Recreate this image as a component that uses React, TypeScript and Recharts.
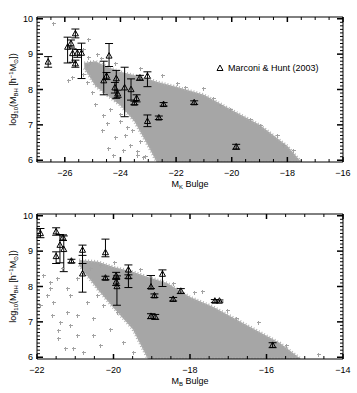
import React from 'react';
import { ComposedChart, XAxis, YAxis, Area, Scatter, ErrorBar, Legend, ReferenceArea } from 'recharts';

// ---------- data: top panel (M_K bulge) ----------
const kBandX = [-25.3, -24.9, -24.5, -24.0, -23.5, -23.0, -22.7, -22.0, -21.0, -20.0, -19.0, -18.0, -17.5];
const kBandLow = [8.6, 8.1, 7.85, 7.55, 7.1, 6.4, 5.95, 5.95, 5.95, 5.95, 5.95, 5.95, 5.95];
const kBandHigh = [8.75, 8.8, 8.65, 8.5, 8.4, 8.3, 8.22, 8.08, 7.85, 7.42, 7.0, 6.4, 5.95];

const kSparseX = [-26.41, -25.15, -25.33, -24.85, -25.87, -25.75, -25.21, -25.09, -25.33, -25.21, -25.03, -24.61, -24.13, -24.37, -24.01, -23.77, -23.83, -24.19, -24.26, -23.65, -23.41, -23.3, -24.67, -24.44, -25.15, -21.02, -20.66, -20.06, -20.42, -19.34, -18.98, -18.38, -18.14, -17.78, -21.97, -21.68, -22.5, -23.3, -24.2, -24.7, -24.9, -24.5, -23.9, -24.0, -23.6, -23.2, -23.41, -23.11];
const kSparseY = [9.88, 9.44, 9.15, 9.01, 8.26, 8.36, 8.68, 8.78, 8.45, 8.22, 7.94, 7.28, 7.7, 7.46, 7.32, 6.95, 6.71, 6.67, 6.15, 6.43, 6.25, 6.53, 6.85, 6.34, 8.92, 8.03, 7.75, 7.46, 7.56, 7.18, 6.99, 6.71, 6.43, 6.29, 8.17, 8.08, 8.4, 8.6, 8.75, 8.9, 7.6, 7.05, 6.3, 7.1, 6.85, 6.1, 6.15, 6.12];

const kMhX = [-26.6, -25.9, -25.78, -25.62, -25.72, -25.55, -25.62, -25.4, -24.41, -24.6, -24.5, -24.15, -24.2, -24.1, -23.85, -23.62, -23.42, -23.5, -23.3, -23.03, -22.45, -23.03, -22.62, -21.35, -19.84];
const kMhY = [8.78, 9.2, 9.3, 9.58, 9.02, 9.03, 8.73, 9.03, 8.95, 8.25, 8.38, 8.31, 8.05, 7.88, 8.05, 8.0, 7.75, 7.62, 8.33, 8.38, 7.58, 7.1, 7.2, 7.63, 6.38];
const kMhErrLo = [0.15, 0.45, 0.1, 0.12, 0.25, 0.12, 0.1, 0.72, 0.3, 0.4, 0.1, 0.56, 0.15, 0.1, 0.82, 0.3, 0.1, 0.05, 0.07, 0.3, 0.05, 0.15, 0.05, 0.05, 0.07];
const kMhErrHi = [0.15, 0.28, 0.1, 0.13, 0.13, 0.1, 0.1, 0.28, 0.35, 0.55, 0.1, 0.23, 0.15, 0.1, 0.58, 0.3, 0.1, 0.05, 0.07, 0.12, 0.05, 0.18, 0.05, 0.05, 0.07];

// ---------- data: bottom panel (M_B bulge) ----------
const bBandX = [-20.9, -20.4, -20.0, -19.5, -19.1, -18.6, -18.0, -17.4, -16.5, -15.65, -15.1];
const bBandLow = [8.6, 7.9, 7.4, 6.8, 5.95, 5.95, 5.95, 5.95, 5.95, 5.95, 5.95];
const bBandHigh = [8.75, 8.7, 8.55, 8.42, 8.27, 8.1, 7.7, 7.43, 6.9, 6.4, 5.95];

const bSparseX = [-21.84, -21.66, -21.92, -21.57, -21.22, -21.4, -21.44, -21.14, -20.96, -21.27, -20.79, -20.53, -20.35, -20.09, -20.7, -20.44, -20.96, -20.79, -20.61, -20.35, -21.49, -21.75, -19.74, -19.48, -19.92, -20.96, -20.53, -20.27, -21.22, -21.62, -21.44, -21.05, -21.66, -21.35, -21.14, -18.44, -17.69, -17.04, -16.21, -14.65, -15.5, -16.8, -17.9, -19.3, -20.0];
const bSparseY = [8.33, 7.95, 7.48, 7.57, 7.95, 7.0, 6.53, 6.91, 7.19, 6.25, 6.15, 6.62, 6.34, 6.81, 7.57, 7.76, 8.23, 8.42, 8.52, 8.61, 8.23, 7.76, 6.43, 6.15, 7.29, 6.62, 7.1, 7.48, 7.29, 7.19, 6.77, 6.25, 8.14, 8.52, 7.76, 8.09, 7.88, 7.33, 7.01, 6.08, 6.35, 7.1, 7.85, 8.5, 8.7];

const bMhX = [-21.91, -21.5, -21.5, -21.4, -21.32, -21.3, -21.1, -20.81, -20.81, -20.21, -20.21, -19.93, -19.93, -19.91, -19.61, -19.61, -19.02, -18.72, -18.93, -18.44, -18.24, -19.02, -18.91, -17.35, -17.23, -15.84];
const bMhY = [9.5, 9.55, 8.85, 9.17, 9.38, 9.05, 8.72, 9.03, 8.36, 8.96, 8.24, 8.3, 8.13, 8.0, 8.47, 8.28, 7.99, 8.35, 7.74, 7.64, 7.87, 7.16, 7.14, 7.59, 7.59, 6.34];
const bMhErrLo = [0.12, 0.1, 0.2, 0.5, 0.08, 0.63, 0.05, 0.38, 0.52, 0.12, 0.05, 0.1, 0.1, 0.53, 0.5, 0.05, 0.05, 0.35, 0.05, 0.05, 0.07, 0.07, 0.07, 0.04, 0.03, 0.07];
const bMhErrHi = [0.14, 0.11, 0.13, 0.3, 0.08, 0.38, 0.05, 0.14, 0.52, 0.38, 0.05, 0.1, 0.1, 0.3, 0.14, 0.05, 0.32, 0.12, 0.05, 0.05, 0.07, 0.07, 0.07, 0.04, 0.03, 0.07];

// ---------- axes ----------
const kXDomain = [-27, -16];
const kXMajor = [-26, -24, -22, -20, -18, -16];
const bXDomain = [-22, -14];
const bXMajor = [-22, -20, -18, -16, -14];
const xMinorStep = 0.5;
const yDomain = [5.95, 10.05];
const yMajor = [6, 7, 8, 9, 10];
const yMinorStep = 0.1;

const FONT = '"Liberation Sans", Arial, Helvetica, sans-serif';
const CLOUD = '#a6a6a6';
const CROSS = '#a2a2a2';
const TICK = '#000';
const W = 357;
const MARGIN_R = 14;
const Y_AXIS_W = 37;
const X_AXIS_H = 34;
const PLOT_W = W - MARGIN_R - Y_AXIS_W;
const PLOT_H = 145;

function buildTicks(lo: number, hi: number, step: number) {
  const out: number[] = [];
  const n = Math.round((hi - lo) / step);
  for (let i = 0; i <= n; i++) out.push(Math.round((lo + i * step) * 1000) / 1000);
  return out;
}

const isMajor = (v: number, majors: number[]) => majors.some((m) => Math.abs(m - v) < 1e-6);
const fmt = (v: number) => (v < 0 ? '\u2212' + Math.abs(v) : String(v));

const makeXTick = (majors: number[]) => (props: any) => {
  const { x, y, payload } = props;
  const v = payload.value;
  const major = isMajor(v, majors);
  const len = major ? 5 : 3;
  const sw = major ? 1.5 : 1;
  return (
    <g>
      <line x1={x} x2={x} y1={y} y2={y - len} stroke={TICK} strokeWidth={sw} />
      <line x1={x} x2={x} y1={y - PLOT_H} y2={y - PLOT_H + len} stroke={TICK} strokeWidth={sw} />
      {major && (
        <text x={x} y={y + 14} textAnchor="middle" fontSize={9} fontFamily={FONT} fill="#000">
          {fmt(v)}
        </text>
      )}
    </g>
  );
};

const YTick = (props: any) => {
  const { x, y, payload } = props;
  const v = payload.value;
  const major = isMajor(v, yMajor);
  const len = major ? 6 : 3;
  const sw = major ? 1.5 : 1;
  return (
    <g>
      <line x1={x} x2={x + len} y1={y} y2={y} stroke={TICK} strokeWidth={sw} />
      <line x1={x + PLOT_W} x2={x + PLOT_W - len} y1={y} y2={y} stroke={TICK} strokeWidth={sw} />
      {major && (
        <text x={x - 4} y={y + 3} textAnchor="end" fontSize={9} fontFamily={FONT} fill="#000">
          {v}
        </text>
      )}
    </g>
  );
};

const YLabel = (props: any) => {
  const vb = props.viewBox || { x: 0, y: 0, width: 0, height: 0 };
  const cy = vb.y + vb.height / 2;
  return (
    <text transform={`translate(16,${cy}) rotate(-90)`} textAnchor="middle" fontSize={9} fontFamily={FONT} fill="#000">
      log
      <tspan dy={2} fontSize={6}>10</tspan>
      <tspan dy={-2}>(M</tspan>
      <tspan dy={2} fontSize={6}>BH</tspan>
      <tspan dy={-2}> [h</tspan>
      <tspan dy={-3} fontSize={6}>{'\u22121'}</tspan>
      <tspan dy={3}>M</tspan>
      <tspan dy={2} fontSize={6}>{'\u2299'}</tspan>
      <tspan dy={-2}>])</tspan>
    </text>
  );
};

const makeXLabel = (sub: string) => (props: any) => {
  const vb = props.viewBox || { x: 0, y: 0, width: 0, height: 0 };
  const cx = vb.x + vb.width / 2;
  return (
    <text x={cx} y={vb.y + 25} textAnchor="middle" fontSize={9} fontFamily={FONT} fill="#000">
      M<tspan dy={2} fontSize={6}>{sub}</tspan>
      <tspan dy={-2}> Bulge</tspan>
    </text>
  );
};

const Triangle = (props: any) => {
  const { cx, cy } = props;
  if (cx == null || cy == null) return null;
  return <path d={`M${cx},${cy - 3.3}L${cx + 3},${cy + 2.2}L${cx - 3},${cy + 2.2}Z`} fill="none" stroke="#000" strokeWidth={1} />;
};

const Cross = (props: any) => {
  const { cx, cy } = props;
  if (cx == null || cy == null) return null;
  const x = Math.round(cx) + 0.5;
  const y = Math.round(cy) + 0.5;
  return <path d={`M${x - 2},${y}h4M${x},${y - 2}v4`} stroke={CROSS} strokeWidth={1} fill="none" shapeRendering="crispEdges" />;
};

const LegendContent = () => (
  <div style={{ display: 'flex', alignItems: 'center', fontFamily: FONT, fontSize: 9, color: '#000', whiteSpace: 'nowrap' }}>
    <svg width={8} height={8} style={{ marginRight: 4 }}>
      <path d="M4,1L7,6.5L1,6.5Z" fill="none" stroke="#000" strokeWidth={1} />
    </svg>
    Marconi &amp; Hunt (2003)
  </div>
);

const zipBand = (xs: number[], lo: number[], hi: number[]) => xs.map((x, i) => ({ x, range: [lo[i], hi[i]] }));
const zipPts = (xs: number[], ys: number[]) => xs.map((x, i) => ({ x, y: ys[i] }));
const zipErr = (xs: number[], ys: number[], lo: number[], hi: number[]) =>
  xs.map((x, i) => ({ x, y: ys[i], err: [lo[i], hi[i]] }));

type PanelProps = {
  height: number;
  top: number;
  xDomain: number[];
  xMajor: number[];
  sub: string;
  band: any[];
  sparse: any[];
  mh: any[];
  legend?: boolean;
};

const Panel = ({ height, top, xDomain, xMajor, sub, band, sparse, mh, legend }: PanelProps) => {
  const xTicks = buildTicks(xDomain[0], xDomain[1], xMinorStep);
  const yTicks = buildTicks(yMajor[0], yMajor[yMajor.length - 1], yMinorStep);
  return (
    <ComposedChart width={W} height={height} margin={{ top, right: MARGIN_R, bottom: 0, left: 0 }}>
      <XAxis
        type="number"
        dataKey="x"
        domain={xDomain}
        allowDataOverflow
        ticks={xTicks}
        interval={0}
        tickSize={0}
        tickMargin={0}
        axisLine={false}
        tickLine={false}
        height={X_AXIS_H}
        tick={makeXTick(xMajor)}
        label={makeXLabel(sub)}
      />
      <YAxis
        type="number"
        dataKey="y"
        domain={yDomain}
        allowDataOverflow
        ticks={yTicks}
        interval={0}
        tickSize={0}
        tickMargin={0}
        axisLine={false}
        tickLine={false}
        width={Y_AXIS_W}
        tick={YTick}
        label={YLabel}
      />
      <Area
        data={band}
        dataKey="range"
        type="linear"
        stroke="#b2b2b2"
        strokeWidth={3}
        strokeDasharray="1 2"
        fill={CLOUD}
        fillOpacity={1}
        isAnimationActive={false}
        activeDot={false}
        dot={false}
      />
      <Scatter data={sparse} dataKey="y" shape={Cross} isAnimationActive={false} />
      <Scatter data={mh} dataKey="y" shape={Triangle} isAnimationActive={false}>
        <ErrorBar dataKey="err" direction="y" width={4} stroke="#000" strokeWidth={1} isAnimationActive={false} />
      </Scatter>
      <ReferenceArea
        x1={xDomain[0]}
        x2={xDomain[1]}
        y1={yDomain[0]}
        y2={yDomain[1]}
        fill="none"
        fillOpacity={0}
        stroke="#000"
        strokeWidth={1}
      />
      {legend && (
        <Legend
          layout="vertical"
          align="center"
          verticalAlign="middle"
          wrapperStyle={{ top: 63, left: 216, width: 130, height: 14 }}
          content={LegendContent}
        />
      )}
    </ComposedChart>
  );
};

export default function App() {
  return (
    <div style={{ position: 'absolute', left: 0, top: 0, width: 357, height: 393, background: '#fff' }}>
      <Panel
        height={196}
        top={17}
        xDomain={kXDomain}
        xMajor={kXMajor}
        sub="K"
        band={zipBand(kBandX, kBandLow, kBandHigh)}
        sparse={zipPts(kSparseX, kSparseY)}
        mh={zipErr(kMhX, kMhY, kMhErrLo, kMhErrHi)}
        legend
      />
      <Panel
        height={197}
        top={18}
        xDomain={bXDomain}
        xMajor={bXMajor}
        sub="B"
        band={zipBand(bBandX, bBandLow, bBandHigh)}
        sparse={zipPts(bSparseX, bSparseY)}
        mh={zipErr(bMhX, bMhY, bMhErrLo, bMhErrHi)}
      />
    </div>
  );
}
